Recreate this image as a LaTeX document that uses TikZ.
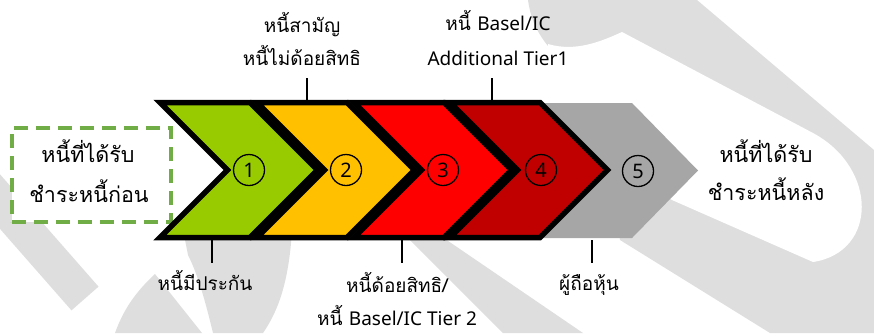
\documentclass[tikz,border=0pt]{standalone}
\usepackage{fontspec}
\newfontfamily\thaifont[Script=Thai]{Loma}
\newfontfamily\latfont{Noto Sans}
\definecolor{wmgrey}{RGB}{222,222,222}
\definecolor{cgreen}{RGB}{153,204,0}
\definecolor{cyellow}{RGB}{255,192,0}
\definecolor{cred}{RGB}{255,0,0}
\definecolor{cdred}{RGB}{192,0,0}
\definecolor{cgrey}{RGB}{166,166,166}
\definecolor{dashgreen}{RGB}{112,173,71}
\newcommand\lt[1]{{\latfont\fontsize{19}{20}\selectfont #1}}
\begin{document}
\begin{tikzpicture}[x=1pt,y=-1pt,
  wm/.style={fill=wmgrey,draw=none},
  chevbox/.style={draw=black,line width=5.5pt,line join=miter,miter limit=10},
  numc/.style={circle,draw=black,line width=1.3pt,minimum size=31pt,inner sep=0pt,
    font=\latfont\fontsize{20}{20}\selectfont},
  lbl/.style={anchor=base,inner sep=0pt,font=\thaifont\fontsize{19}{20}\selectfont},
  side/.style={anchor=base,inner sep=0pt,font=\thaifont\fontsize{21.5}{23}\selectfont},
  tick/.style={draw=black,line width=2pt}]
\useasboundingbox (0,0) rectangle (874,333);
% ---- watermark ----
\draw[wmgrey,line width=36pt] (-47,148) -- (85,298.5);
\fill[wm] (115,333) .. controls (125,305) and (140,288) .. (155,274) -- (202,333) -- cycle;
\fill[wm] (183,230) -- (292,230) .. controls (289,280) and (279,310) .. (263,333)
  -- (213,333) .. controls (205,300) and (198,275) .. (188,255) -- cycle;
\fill[wm] (400,230) -- (432,230) -- (583,333) -- (503,333) -- cycle;
\fill[wm] (528,0) -- (697,0) -- (874,150) -- (874,333) -- (770,333) -- (620,240)
  -- (600,110) -- (548,46) .. controls (535,30) and (530,15) .. (528,0) -- cycle;
\fill[white] (548,44) .. controls (575,52) and (600,42) .. (622,32) -- (813,133)
  .. controls (878,168) and (878,252) .. (813,262) -- (672,200) -- (600,150) -- (548,100) -- cycle;
% ---- left dashed box ----
\node[draw=dashgreen,fill=white,line width=4pt,dash pattern=on 14pt off 8pt,
  minimum width=159pt,minimum height=94pt,inner sep=0pt] (box) at (91.5,175) {};
\node[side] (ltop) at (88,162) {หนี้ที่ได้รับ};
\node[side] (lbot) at (89,202) {ชำระหนี้ก่อน};
% ---- chevrons ----
\fill[cgrey] (530,103) -- (632,103) -- (698,170.5) -- (632,238) -- (530,238) -- cycle;
\foreach \a/\c in {160/cgreen,257/cyellow,354/cred,450/cdred}{
  \draw[chevbox,fill=\c] (\a,102.5) -- ({\a+90},102.5) -- ({\a+157.5},170)
    -- ({\a+90},237.5) -- (\a,237.5) -- ({\a+67.5},170) -- cycle;
}
\node[numc] (n1) at (249,170) {1};
\node[numc] (n2) at (346,170) {2};
\node[numc] (n3) at (443,170) {3};
\node[numc] (n4) at (541,170) {4};
\node[numc] (n5) at (638,171) {5};
% ---- right text ----
\node[side] (rtop) at (766,162) {หนี้ที่ได้รับ};
\node[side] (rbot) at (766,200) {ชำระหนี้หลัง};
% ---- top labels ----
\node[lbl] (u2a) at (302,32) {หนี้สามัญ};
\node[lbl] (u2b) at (302,65) {หนี้ไม่ด้อยสิทธิ};
\node[lbl] (u4a) at (498,30) {หนี้ \lt{Basel/IC}};
\node[lbl] (u4b) at (498,65) {\lt{Additional Tier1}};
\coordinate (k2a) at (307,78); \coordinate (k2b) at (307,100);
\coordinate (k4a) at (492,78); \coordinate (k4b) at (492,100);
\draw[tick] (k2a) -- (k2b);
\draw[tick] (k4a) -- (k4b);
% ---- bottom labels ----
\node[lbl] (d1) at (205,290) {หนี้มีประกัน};
\node[lbl] (d3a) at (397,292) {หนี้ด้อยสิทธิ/};
\node[lbl] (d3b) at (397,325) {หนี้ \lt{Basel/IC Tier 2}};
\node[lbl] (d5) at (589,290) {ผู้ถือหุ้น};
\coordinate (k1a) at (212,240); \coordinate (k1b) at (212,263);
\coordinate (k3a) at (402,240); \coordinate (k3b) at (402,263);
\coordinate (k5a) at (592,240); \coordinate (k5b) at (592,263);
\draw[tick] (k1a) -- (k1b);
\draw[tick] (k3a) -- (k3b);
\draw[tick] (k5a) -- (k5b);
\end{tikzpicture}
\end{document}
